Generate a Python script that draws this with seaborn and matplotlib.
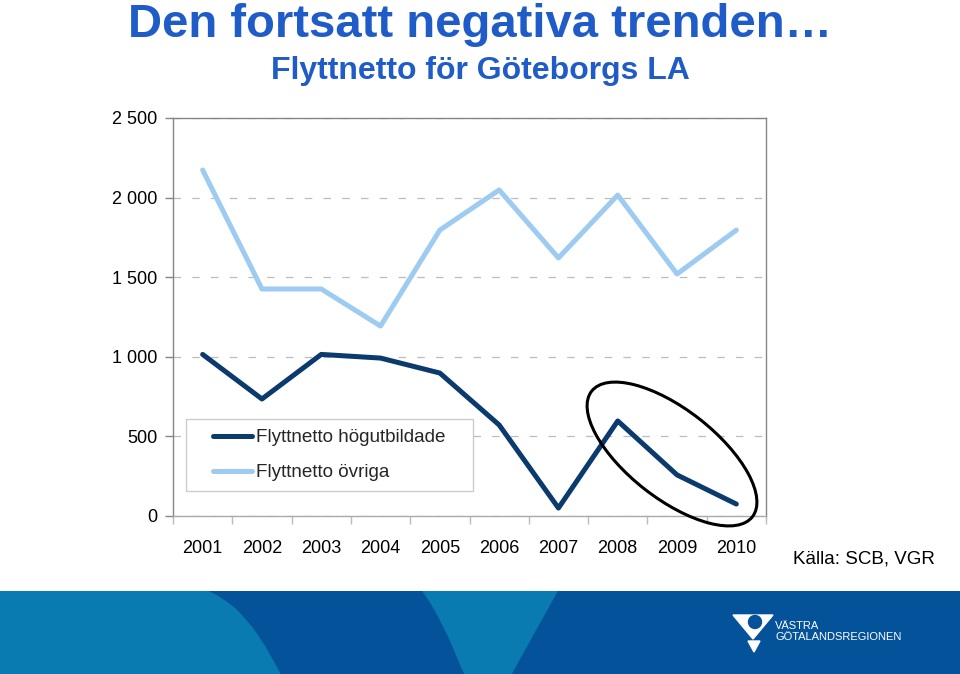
import numpy as np
import pandas as pd
import matplotlib
matplotlib.use('Agg')
import matplotlib.pyplot as plt
import seaborn as sns
from matplotlib.patches import Ellipse, Polygon, Rectangle, Circle
from matplotlib.ticker import FixedLocator, FuncFormatter

# data ==========================================================
years = ['2001', '2002', '2003', '2004', '2005',
         '2006', '2007', '2008', '2009', '2010']
hogutbildade = [1015, 735, 1015, 992, 898, 572, 50, 597, 258, 75]
ovriga = [2173, 1426, 1426, 1193, 1796, 2048, 1621, 2016, 1520, 1796]
series_names = ['Flyttnetto högutbildade', 'Flyttnetto övriga']
y_ticks = [0, 500, 1000, 1500, 2000, 2500]

df = pd.DataFrame({
    'år': years * 2,
    'värde': hogutbildade + ovriga,
    'serie': [series_names[0]] * len(years) + [series_names[1]] * len(years),
})

# style =========================================================
sns.set_theme(style='white')
plt.rcParams['font.family'] = ['Liberation Sans', 'DejaVu Sans']

dark = '#0B3A6E'
light = '#9DCBF1'
grey = '#858585'
blue_txt = '#1F5CC8'

fig = plt.figure(figsize=(9.6, 6.74), dpi=100)
ax = fig.add_axes([173 / 960, 1 - 516 / 674, 593 / 960, 398 / 674])

sns.lineplot(data=df, x='år', y='värde', hue='serie', palette=[dark, light],
             linewidth=3.6, sort=False, ax=ax, legend=False)

ax.set_xlim(-0.5, 9.5)
ax.set_ylim(0, 2500)
ax.set_xlabel('')
ax.set_ylabel('')

ax.yaxis.set_major_locator(FixedLocator(y_ticks))
ax.yaxis.set_major_formatter(FuncFormatter(lambda v, p: f'{int(v):,}'.replace(',', ' ')))
ax.xaxis.set_minor_locator(FixedLocator(np.arange(-0.5, 10, 1)))

ax.tick_params(axis='y', which='major', left=True, length=6, width=1,
               color=grey, pad=5, labelsize=13, labelcolor='black')
ax.tick_params(axis='x', which='major', length=0, pad=17, labelsize=13,
               labelcolor='black')
ax.tick_params(axis='x', which='minor', bottom=True, length=6, width=1,
               color='#BBBBBB')

ax.grid(False)
ax.yaxis.grid(True, linestyle=(0, (6, 9)), color='#BDBDBD', linewidth=0.9)
for s in ax.spines.values():
    s.set_visible(True)
    s.set_color(grey)
    s.set_linewidth(1.0)
ax.spines['bottom'].set_color('#AAAAAA')

# legend ========================================================
ax.add_patch(Rectangle((13 / 593, 25 / 398), 287 / 593, 72 / 398,
                       transform=ax.transAxes, facecolor='white',
                       edgecolor='#CCCCCC', linewidth=1, zorder=3))
handles = [plt.Line2D([], [], color=dark, lw=3.6),
           plt.Line2D([], [], color=light, lw=3.6)]
leg = ax.legend(handles, series_names, loc='upper left',
                bbox_to_anchor=(40 / 593, 87 / 398), frameon=False,
                fontsize=13.6, handlelength=2.05, handletextpad=0.25,
                labelspacing=0.95, borderpad=0, borderaxespad=0)
leg.set_zorder(4)

# ellipse round the last years
fig.add_artist(Ellipse((6.72, 2.20), 2.04, 0.89, angle=-38,
                       transform=fig.dpi_scale_trans, fill=False,
                       edgecolor='black', linewidth=2.2, clip_on=False))

# titles ========================================================
fig.text(0.5, 1 - 37 / 674, 'Den fortsatt negativa trenden…', ha='center',
         va='baseline', fontsize=34, fontweight='bold', color=blue_txt)
fig.text(0.5, 1 - 79 / 674, 'Flyttnetto för Göteborgs LA', ha='center',
         va='baseline', fontsize=23, fontweight='bold', color=blue_txt)
fig.text(793 / 960, 1 - 563 / 674, 'Källa: SCB, VGR', ha='left',
         va='baseline', fontsize=13.5, color='black')

# bottom band ===================================================
band = fig.add_axes([0, 0, 1, 83 / 674])
band.set_xlim(0, 960)
band.set_ylim(83, 0)
band.axis('off')
band_dark = '#04529A'
band_light = '#0A7BB0'
band.add_patch(Rectangle((0, 0), 960, 83, color=band_dark))
band.add_patch(Polygon([(0, 0), (207, 0), (217, 5), (226, 11), (234, 17),
                        (241, 24), (247, 31), (253, 38), (259, 47),
                        (265, 56), (270, 65), (275, 74), (280, 83), (0, 83)],
                       color=band_light))
band.add_patch(Polygon([(423, 0), (431, 12), (438, 24), (444, 36),
                        (450, 48), (455, 60), (460, 72), (465, 83),
                        (511, 83), (557, 0)], color=band_light))
# logo
band.add_patch(Polygon([(733, 24), (773, 24), (753, 48)], color='white'))
band.add_patch(Circle((755, 31), 6.5, color=band_dark))
band.add_patch(Polygon([(748, 50), (760, 50), (754, 61)], color='white'))
band.text(775, 38, 'VÄSTRA', color='white', fontsize=8,
          family='Liberation Sans', va='baseline')
band.text(775, 49, 'GÖTALANDSREGIONEN', color='white', fontsize=8,
          family='Liberation Sans', va='baseline')

fig.savefig('out.png', dpi=100)
